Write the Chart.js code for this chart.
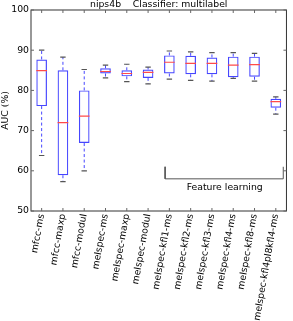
<!DOCTYPE html>
<html>
<head>
<meta charset="UTF-8">
<script src="https://cdn.jsdelivr.net/npm/chart.js"></script>
<style>
  html, body { margin: 0; padding: 0; background: #fff; }
  #wrap { width: 293px; height: 321px; }
</style>
</head>
<body>
<div id="wrap"><canvas id="chart"></canvas></div>
<script>
  const categories = ['mfcc-ms', 'mfcc-maxp', 'mfcc-modul', 'melspec-ms', 'melspec-maxp', 'melspec-modul',
    'melspec-kfl1-ms', 'melspec-kfl2-ms', 'melspec-kfl3-ms', 'melspec-kfl4-ms', 'melspec-kfl8-ms', 'melspec-kfl4pl8kfl4-ms'];
  const whiskerHigh = [90.0, 88.3, 85.2, 86.3, 86.5, 85.8, 89.8, 89.6, 89.4, 89.4, 89.2, 78.4];
  const q3 = [87.7, 85.0, 80.0, 85.5, 85.0, 85.2, 88.7, 88.6, 88.2, 88.4, 88.4, 77.9];
  const medians = [84.9, 72.0, 73.6, 84.7, 84.2, 84.5, 87.0, 86.7, 86.7, 86.3, 86.4, 77.2];
  const q1 = [76.1, 58.9, 66.9, 84.2, 83.5, 83.1, 84.2, 84.0, 84.0, 83.3, 83.4, 75.7];
  const whiskerLow = [63.8, 57.3, 60.0, 83.1, 82.2, 81.6, 82.8, 82.5, 82.3, 83.0, 82.3, 74.1];
  const yTicks = [50, 60, 70, 80, 90, 100];

  // bracket under the feature learning group
  const bracketX = [5.8, 5.8, 11.35, 11.35];
  const bracketY = [61, 58, 58, 61];
  const groupLabel = 'Feature learning';
  const groupLabelPos = [8.6, 55.9];

  const BLUE = '#4646ff';
  const RED = '#ff4a4a';
  const FONT = 9.3;

  Chart.defaults.font.family = "'DejaVu Sans', sans-serif";
  Chart.defaults.font.size = FONT;
  Chart.defaults.color = '#000';

  const whiskerData = [];
  const capData = [];
  categories.forEach((c, i) => {
    whiskerData.push({ x: i, y: q3[i] }, { x: i, y: whiskerHigh[i] }, { x: i, y: null });
    whiskerData.push({ x: i, y: q1[i] }, { x: i, y: whiskerLow[i] }, { x: i, y: null });
    capData.push({ x: i, y: whiskerHigh[i] }, { x: i, y: whiskerLow[i] });
  });

  const frame = {
    id: 'frame',
    afterDraw(chart) {
      const { ctx, chartArea: a, scales } = chart;
      ctx.save();
      ctx.strokeStyle = '#333';
      ctx.lineWidth = 1;
      ctx.strokeRect(a.left, a.top, a.right - a.left, a.bottom - a.top);
      ctx.strokeStyle = '#666';
      ctx.beginPath();
      yTicks.forEach(v => {
        const py = scales.y.getPixelForValue(v);
        ctx.moveTo(a.left, py); ctx.lineTo(a.left + 3, py);
        ctx.moveTo(a.right, py); ctx.lineTo(a.right - 3, py);
      });
      categories.forEach((c, i) => {
        const px = scales.x.getPixelForValue(i);
        ctx.moveTo(px, a.bottom); ctx.lineTo(px, a.bottom - 3);
        ctx.moveTo(px, a.top); ctx.lineTo(px, a.top + 3);
      });
      ctx.stroke();
      ctx.fillStyle = '#000';
      ctx.font = FONT + "px 'DejaVu Sans'";
      ctx.textAlign = 'center';
      ctx.textBaseline = 'middle';
      ctx.fillText(groupLabel, scales.x.getPixelForValue(groupLabelPos[0]), scales.y.getPixelForValue(groupLabelPos[1]));
      ctx.restore();
    }
  };

  new Chart(document.getElementById('chart'), {
    type: 'bar',
    data: {
      datasets: [
        {
          type: 'line', label: 'median', data: medians.map((v, i) => ({ x: i, y: v })),
          showLine: false, pointStyle: 'line', pointRadius: 5.35, borderColor: RED, borderWidth: 1.2
        },
        {
          type: 'line', label: 'caps', data: capData,
          showLine: false, pointStyle: 'line', pointRadius: 2.7, borderColor: '#555', borderWidth: 1.2
        },
        {
          type: 'line', label: 'whiskers', data: whiskerData,
          borderColor: BLUE, borderWidth: 1, borderDash: [3, 2.5], pointRadius: 0, spanGaps: false
        },
        {
          label: 'box', data: q1.map((v, i) => ({ x: i, y: [v, q3[i]] })),
          backgroundColor: 'rgba(0,0,0,0)', borderColor: BLUE, borderWidth: 1.2, borderSkipped: false,
          barPercentage: 0.5, categoryPercentage: 1
        },
        {
          type: 'line', label: 'bracket', data: bracketX.map((x, i) => ({ x: x, y: bracketY[i] })),
          borderColor: '#555', borderWidth: 1, pointRadius: 0, tension: 0
        }
      ]
    },
    options: {
      responsive: true,
      maintainAspectRatio: false,
      animation: false,
      events: [],
      layout: { padding: { left: 0, right: 5, top: 0, bottom: 0 } },
      plugins: {
        legend: { display: false },
        tooltip: { enabled: false },
        title: {
          display: true, text: 'nips4b    Classifier: multilabel', fullSize: false,
          font: { size: FONT, weight: 'normal', lineHeight: 1.075 }, padding: { top: 0, bottom: 0 }, color: '#000'
        }
      },
      scales: {
        x: {
          type: 'linear', min: -0.5, max: 11.5, offset: false,
          grid: { display: false, drawTicks: false, offset: false },
          border: { display: false },
          afterBuildTicks(axis) { axis.ticks = categories.map((c, i) => ({ value: i })); },
          ticks: { autoSkip: false, minRotation: 80, maxRotation: 80, padding: 2, callback: (v) => categories[v] },
          afterFit(axis) { axis.height = 110; }
        },
        y: {
          min: 50, max: 100,
          grid: { display: false, drawTicks: false },
          border: { display: false },
          ticks: { stepSize: 10, padding: 2 },
          title: { display: true, text: 'AUC (%)', padding: 0, font: { size: FONT } },
          afterFit(axis) { axis.width = 31; }
        }
      }
    },
    plugins: [frame]
  });
</script>
</body>
</html>
